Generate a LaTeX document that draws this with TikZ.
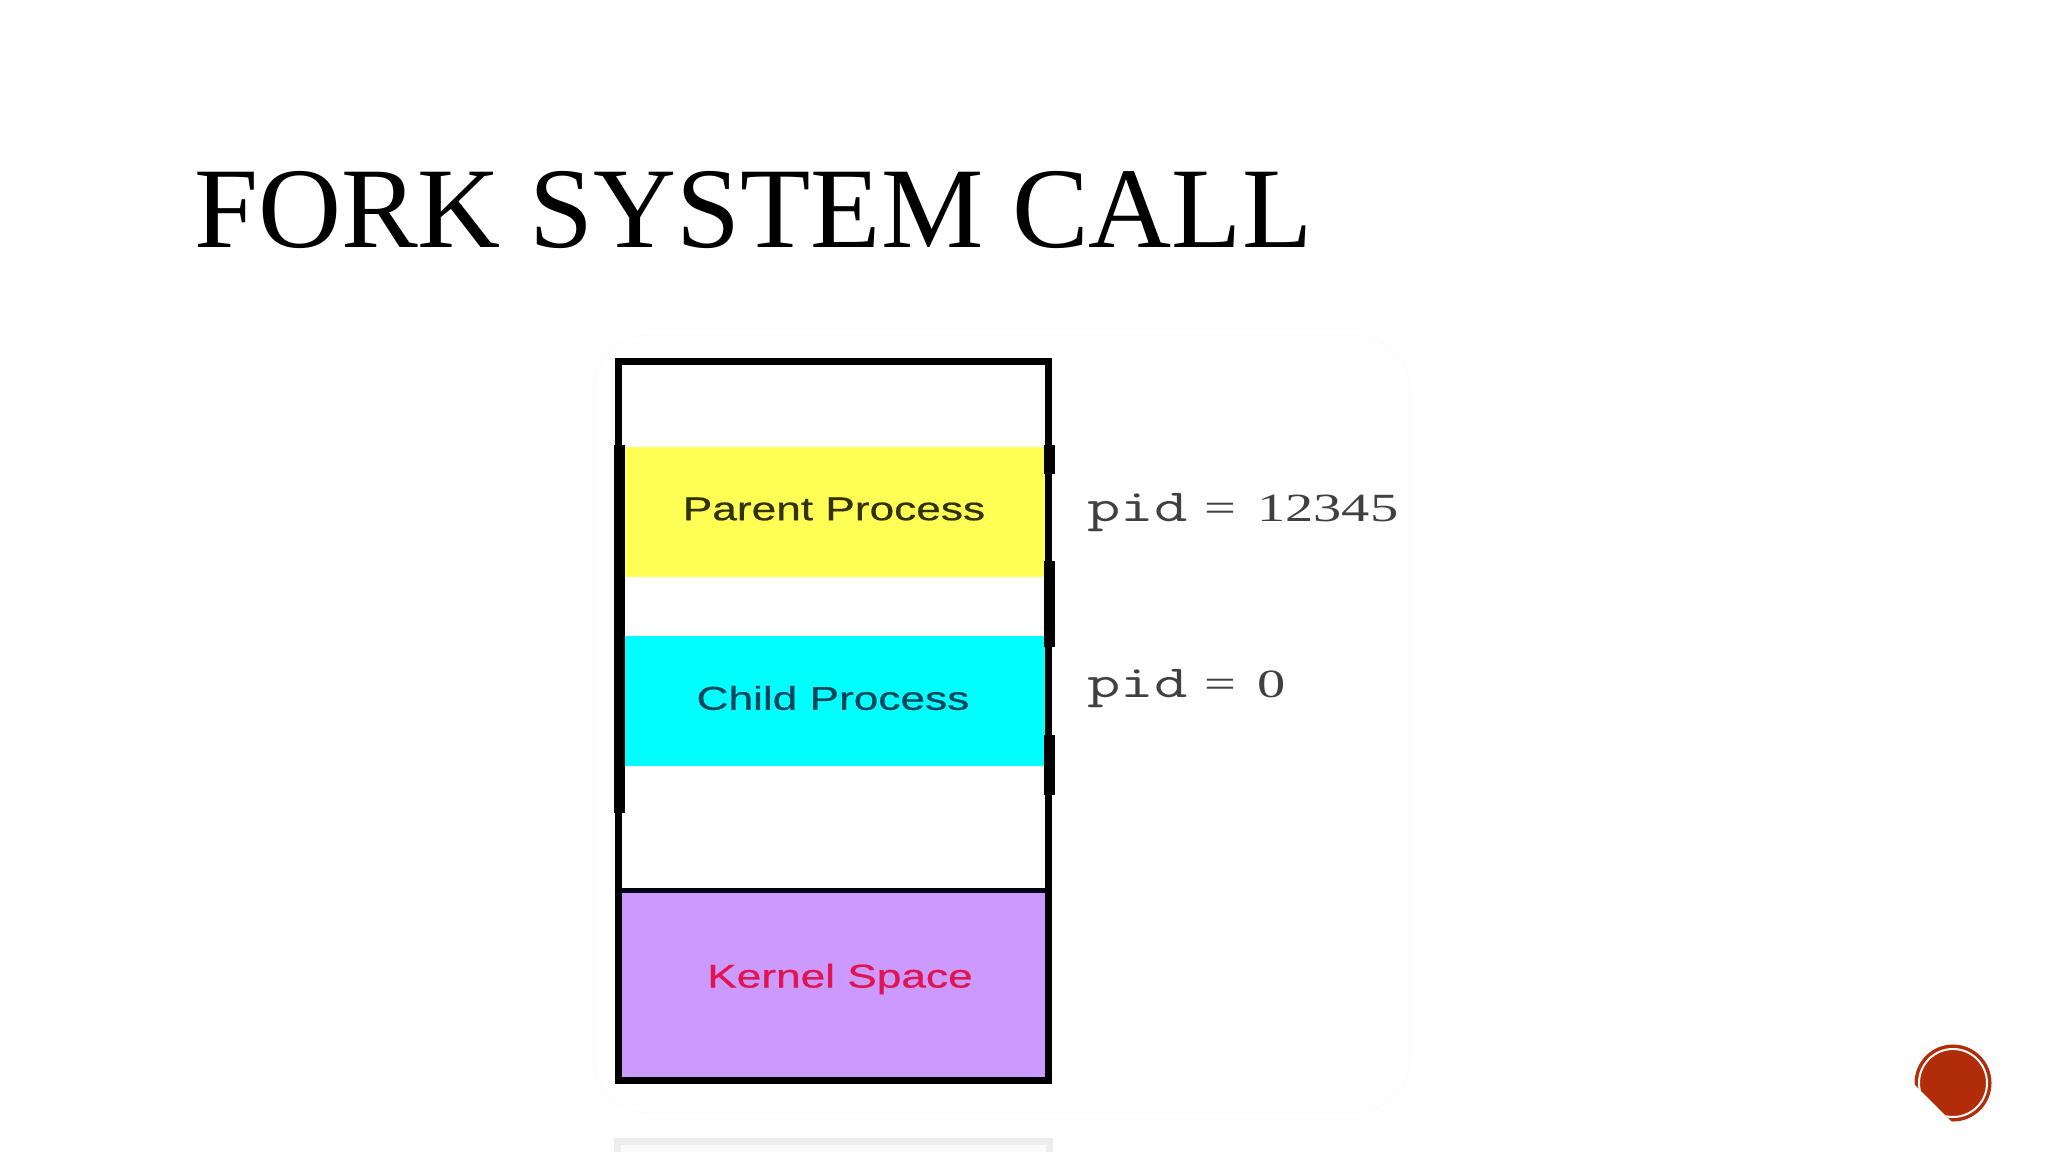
\documentclass[tikz,border=0pt]{standalone}
\usepackage{fontspec}
\setmainfont{Liberation Serif}
\setsansfont{Liberation Sans}
\newfontfamily\ttpid{Latin Modern Mono}
\newfontfamily\labelsans[FakeBold=0.5]{Liberation Sans}
\definecolor{badge}{HTML}{B12D0A}
\definecolor{cyanband}{HTML}{00FFFF}
\tikzset{
  x=1pt,y=-1pt,
  band/.style={inner sep=0pt,outer sep=0pt,line width=0pt,anchor=north west},
  seg/.style={fill=black,draw=none},
  sanslabel/.style={inner sep=0pt,font=\labelsans\fontsize{33}{33}\selectfont,xscale=1.34,transform shape,anchor=center},
  pidlabel/.style={inner sep=0pt,text=black!75,font=\fontsize{40}{40}\selectfont,xscale=1.41,transform shape,anchor=base west}
}
\begin{document}
\begin{tikzpicture}
\useasboundingbox (0,0) rectangle (2048,1152);
\fill[white] (0,0) rectangle (2048,1152);
% faint backing card
\draw[draw=black!1.5,line width=1pt,rounded corners=55pt] (594,335) rectangle (1410,1113);
% next-slide ghost of the box
\fill[black!7] (614,1138) rectangle (1053,1152);
\fill[white!98!black] (621,1145) rectangle (1046,1152);
% bands
\node[band,fill=white,minimum width=426pt,minimum height=530pt] (upper) at (618,360) {};
\node[band,fill={rgb,255:red,255;green,255;blue,85},minimum width=420pt,minimum height=130pt] (yellowband) at (625,447) {};
\node[band,fill=cyanband,minimum width=420pt,minimum height=130pt] (cyanrect) at (625,636) {};
\node[band,fill={rgb,255:red,204;green,153;blue,255},minimum width=430pt,minimum height=191pt] (kernelband) at (618,889) {};
% frame
\draw[line width=7pt,black] (618,361) rectangle (1048,1080);
\draw[line width=5pt,black!92!blue] (620,890) -- (1046,890);
% thick segments
\fill[seg] (614,445) rectangle (625,813);
\fill[seg] (1044,445) rectangle (1055,474);
\fill[seg] (1044,561) rectangle (1055,647);
\fill[seg] (1044,735) rectangle (1055,795);
% labels
\node[sanslabel,text={rgb,255:red,50;green,50;blue,0}] (parentlabel) at (834,509) {Parent Process};
\node[sanslabel,text={rgb,255:red,0;green,70;blue,90}] (childlabel) at (833,698) {Child Process};
\node[sanslabel,text={rgb,255:red,225;green,20;blue,80}] (kernellabel) at (840,979) {Kernel Space};
\node[pidlabel] (pida) at (1087,521) {{\ttpid\fontsize{46}{46}\selectfont pid}\hspace{12pt}=\hspace{15pt}12345};
\node[pidlabel] (pidb) at (1087,697) {{\ttpid\fontsize{46}{46}\selectfont pid}\hspace{12pt}=\hspace{15pt}0};
% title
\node[inner sep=0pt,anchor=base west,font=\fontsize{115}{115}\selectfont] (title) at (194,247) {FORK SYSTEM CALL};
% badge
\begin{scope}
\clip (1900,1070) -- (1953,1123) -- (2020,1123) -- (2020,1020) -- (1900,1020) -- cycle;
\fill[badge] (1953,1083) circle (38.5);
\draw[white,line width=2pt] (1953,1083) circle (34);
\end{scope}
\end{tikzpicture}
\end{document}
